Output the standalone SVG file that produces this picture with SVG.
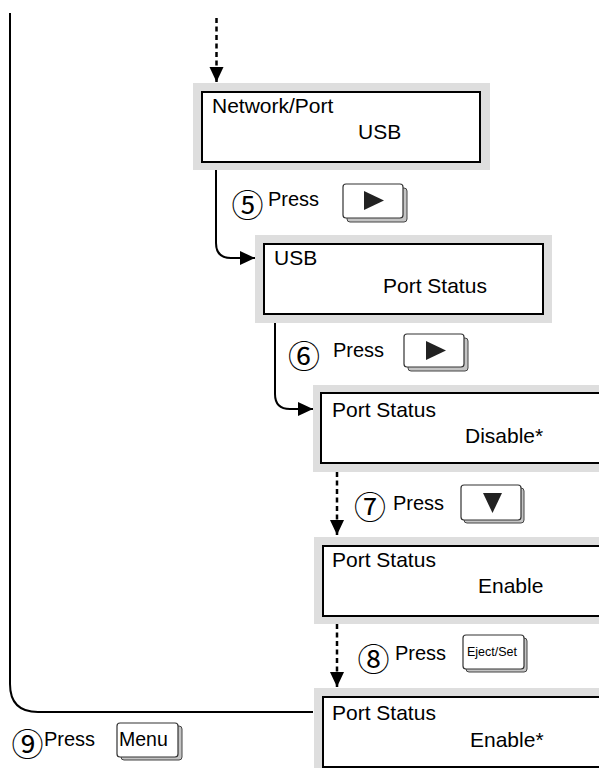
<svg xmlns="http://www.w3.org/2000/svg" width="599" height="768" viewBox="0 0 599 768">
<style>
.pad{fill:#dedede;stroke:none}
.lcd{fill:#fff;stroke:#000;stroke-width:2}
.t{font-family:"Liberation Sans",Arial,sans-serif;font-size:21px;fill:#000}
.p{font-family:"Liberation Sans",Arial,sans-serif;font-size:20px;fill:#000}
.c{font-family:"Noto Sans CJK JP","DejaVu Sans",sans-serif;font-size:32px;fill:#000;text-anchor:middle}
.bs{fill:#c4c4c4;stroke:#444;stroke-width:1}
.bf{fill:#fff;stroke:#333;stroke-width:1.2}
.ic{fill:#222}
.ln{fill:none;stroke:#000;stroke-width:2}
.dt{fill:none;stroke:#000;stroke-width:2.5;stroke-dasharray:5 3.5}
</style>
<defs>
<marker id="ah" markerUnits="userSpaceOnUse" markerWidth="16" markerHeight="15" refX="15" refY="7" orient="auto">
<path d="M0,0 L15,7 L0,14 z" fill="#000"/>
</marker>
</defs>

<g id="connectors">
<path class="dt" d="M216.5,18 V82" marker-end="url(#ah)"/>
<path class="ln" d="M216,170 V243 Q216,258 231,258 H255" marker-end="url(#ah)"/>
<path class="ln" d="M275,323 V394 Q275,409 290,409 H313" marker-end="url(#ah)"/>
<path class="dt" d="M337,472 V535" marker-end="url(#ah)"/>
<path class="dt" d="M337,624 V687" marker-end="url(#ah)"/>
<path class="ln" d="M313,712 H38 Q10,712 10,684 V13"/>
</g>

<g id="node-network-port">
<rect class="pad" x="193" y="83" width="297" height="87"/>
<rect class="lcd" x="202" y="92" width="278" height="70"/>
<text class="t" x="212" y="113">Network/Port</text>
<text class="t" x="358" y="139">USB</text>
</g>

<g id="node-usb">
<rect class="pad" x="255" y="235" width="297" height="88"/>
<rect class="lcd" x="264" y="244" width="279" height="70"/>
<text class="t" x="274" y="265">USB</text>
<text class="t" x="383" y="293">Port Status</text>
</g>

<g id="node-disable">
<rect class="pad" x="313" y="385" width="300" height="87"/>
<rect class="lcd" x="321" y="393" width="282" height="70"/>
<text class="t" x="332" y="417">Port Status</text>
<text class="t" x="465" y="443">Disable*</text>
</g>

<g id="node-enable">
<rect class="pad" x="314" y="537" width="300" height="87"/>
<rect class="lcd" x="323" y="546" width="282" height="70"/>
<text class="t" x="332" y="567">Port Status</text>
<text class="t" x="478" y="593">Enable</text>
</g>

<g id="node-enable-set">
<rect class="pad" x="314" y="688" width="300" height="90"/>
<rect class="lcd" x="323" y="697" width="282" height="70"/>
<text class="t" x="332" y="720">Port Status</text>
<text class="t" x="470" y="747">Enable*</text>
</g>

<g id="step5">
<text class="c" x="247.5" y="217">⑤</text>
<text class="p" x="268" y="206">Press</text>
<rect class="bs" x="347" y="188" width="60" height="34" rx="3"/>
<rect class="bf" x="343" y="184" width="60" height="34" rx="3"/>
<path class="ic" d="M364,191 L384,200.5 L364,210 z"/>
</g>

<g id="step6">
<text class="c" x="304" y="367.5">⑥</text>
<text class="p" x="333" y="357">Press</text>
<rect class="bs" x="408" y="338" width="60" height="33" rx="3"/>
<rect class="bf" x="404" y="334" width="60" height="33" rx="3"/>
<path class="ic" d="M426,341 L446,350.5 L426,360 z"/>
</g>

<g id="step7">
<text class="c" x="370" y="519">⑦</text>
<text class="p" x="393" y="510">Press</text>
<rect class="bs" x="464" y="488" width="60" height="35" rx="3"/>
<rect class="bf" x="461" y="485" width="60" height="35" rx="3"/>
<path class="ic" d="M483,493 L502,493 L492.5,513 z"/>
</g>

<g id="step8">
<text class="c" x="373.5" y="670.5">⑧</text>
<text class="p" x="395" y="660">Press</text>
<rect class="bs" x="466" y="638" width="61" height="34" rx="3"/>
<rect class="bf" x="463" y="635" width="61" height="34" rx="3"/>
<text x="467" y="656" font-family="Liberation Sans,Arial,sans-serif" font-size="12.5">Eject/Set</text>
</g>

<g id="step9">
<text class="c" x="27.5" y="755.5">⑨</text>
<text class="p" x="44" y="746">Press</text>
<rect class="bs" x="121" y="726" width="61" height="34" rx="3"/>
<rect class="bf" x="117" y="723" width="61" height="34" rx="3"/>
<text x="119" y="746" font-family="Liberation Sans,Arial,sans-serif" font-size="19.5">Menu</text>
</g>
</svg>
